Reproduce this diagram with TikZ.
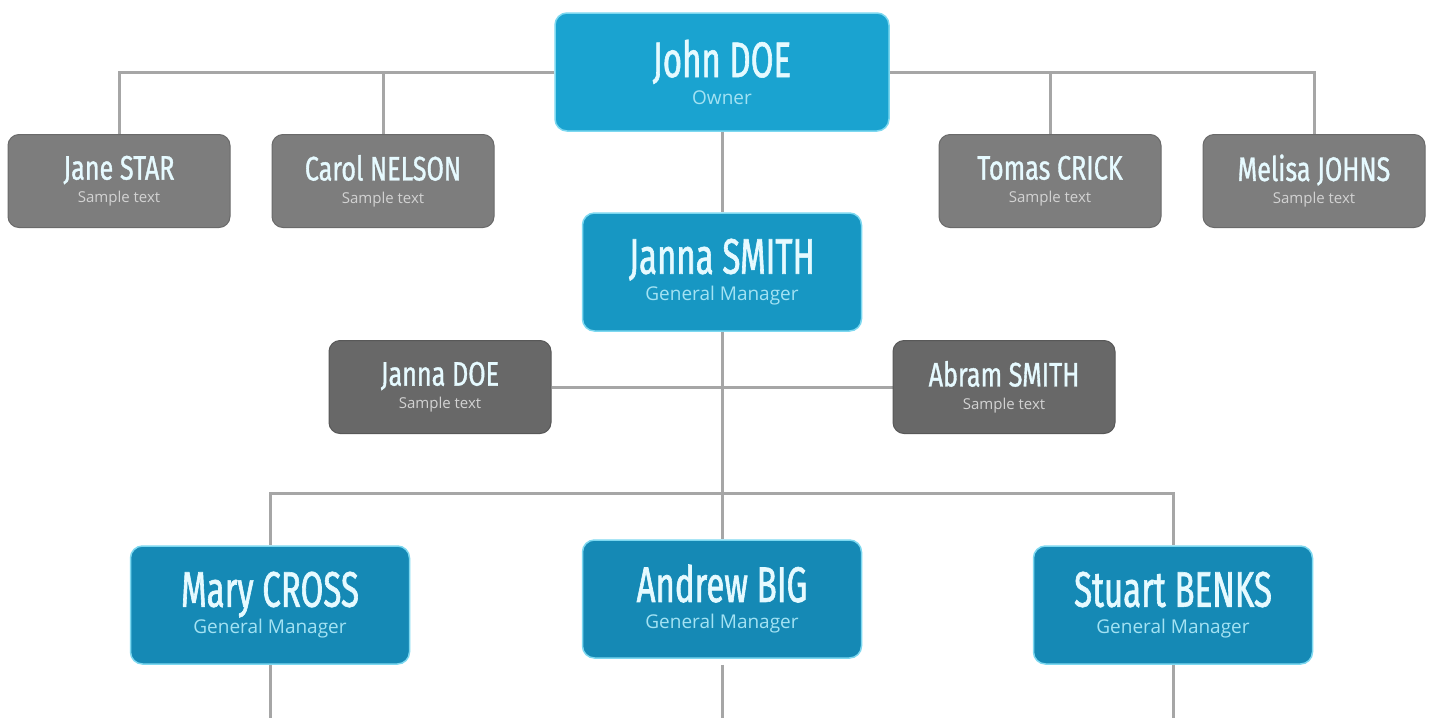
\documentclass[tikz,border=0pt]{standalone}
\usepackage{fontspec}
\usepackage{tikz}
\usetikzlibrary{positioning,backgrounds}
\newfontfamily\namefont[FakeStretch=0.66,FakeBold=1.2]{Fira Sans}
\newfontfamily\smallname[FakeStretch=0.74,FakeBold=1]{Fira Sans}
\newfontfamily\subfont{Open Sans}
\definecolor{ownerblue}{HTML}{1AA3D0}
\definecolor{topblue}{HTML}{1797C3}
\definecolor{lowblue}{HTML}{1589B5}
\definecolor{glow}{HTML}{7DD8F0}
\definecolor{lightgray}{HTML}{7D7D7D}
\definecolor{darkgray}{HTML}{686868}
\definecolor{link}{HTML}{A6A6A6}
\definecolor{nametext}{HTML}{E6FAFF}
\definecolor{subblue}{HTML}{A3E2F3}
\definecolor{subgray}{HTML}{D2D2D2}
\tikzset{
  chief/.style={rounded corners=12pt, fill=ownerblue, draw=glow, line width=1.5pt,
    minimum width=334pt, minimum height=118pt, align=center, text=nametext,
    font=\fontsize{19}{27}\selectfont},
  boss/.style={chief, fill=topblue, minimum width=279pt},
  lowboss/.style={boss, fill=lowblue},
  staff/.style={rounded corners=11pt, fill=lightgray, draw=lightgray!85!black, line width=1pt,
    minimum width=222pt, minimum height=93pt, align=center, text=nametext,
    font=\fontsize{15}{23}\selectfont},
  darkstaff/.style={staff, fill=darkgray, draw=darkgray!85!black},
  wire/.style={draw=link, line width=3pt}
}
% name and role inside a box
\newcommand{\bigcard}[2]{{\fontsize{50}{27}\namefont #1}\\{\subfont\color{subblue} #2}}
\newcommand{\smallcard}[2]{{\fontsize{34}{23}\smallname #1}\\{\subfont\color{subgray} #2}}

\begin{document}
\begin{tikzpicture}[x=1pt, y=-1pt]
  \useasboundingbox (0,0) rectangle (1430,718);

  % top level
  \node[chief] (john) at (722,72) {\bigcard{John DOE}{Owner}};
  \node[staff] (jane) at (119,181) {\smallcard{Jane STAR}{Sample text}};
  \node[staff] (carol) at (383,181) {\smallcard{Carol NELSON}{Sample text}};
  \node[staff] (tomas) at (1050,181) {\smallcard{Tomas CRICK}{Sample text}};
  \node[staff] (melisa) at (1314,181) {\smallcard{Melisa JOHNS}{Sample text}};

  % general manager and assistants
  \node[boss] (jsmith) at (722,272) {\bigcard{Janna SMITH}{General Manager}};
  \node[darkstaff] (jdoe) at (440,387) {\smallcard{Janna DOE}{Sample text}};
  \node[darkstaff] (abram) at (1004,387) {\smallcard{Abram SMITH}{Sample text}};

  % lower managers
  \node[lowboss] (mary) at (270,605) {\bigcard{Mary CROSS}{General Manager}};
  \node[lowboss] (andrew) at (722,599) {\bigcard{Andrew BIG}{General Manager}};
  \node[lowboss] (stuart) at (1173,605) {\bigcard{Stuart BENKS}{General Manager}};

  \coordinate (split) at (722,493);
  \coordinate (maryend) at (270,718);
  \coordinate (andrewend) at (722,718);
  \coordinate (stuartend) at (1173,718);

  \begin{scope}[on background layer]
    \fill[white] (0,0) rectangle (1430,718);
    \draw[wire] (john.west) -| (jane.north);
    \draw[wire] (john.west) -| (carol.north);
    \draw[wire] (john.east) -| (tomas.north);
    \draw[wire] (john.east) -| (melisa.north);
    \draw[wire] (john.south) -- (jsmith.north);
    \draw[wire] (jsmith.south) -- (andrew.north);
    \draw[wire] (jdoe.east) -- (abram.west);
    \draw[wire] (split) -| (mary.north);
    \draw[wire] (split) -| (stuart.north);
    \draw[wire] (mary.south) -- (maryend);
    \draw[wire] ([yshift=-6pt]andrew.south) -- (andrewend);
    \draw[wire] (stuart.south) -- (stuartend);
  \end{scope}
\end{tikzpicture}
\end{document}
